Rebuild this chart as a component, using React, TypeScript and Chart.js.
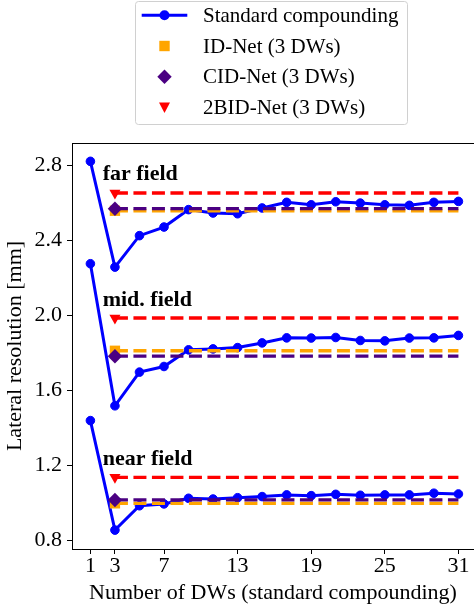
import React, { useEffect, useRef } from 'react';
import { Chart, registerables } from 'chart.js';

Chart.register(...registerables);

// ---------- data ----------
const dwCounts = [1, 3, 5, 7, 9, 11, 13, 15, 17, 19, 21, 23, 25, 27, 29, 31];
const farStandard = [2.823, 2.258, 2.426, 2.472, 2.565, 2.547, 2.543, 2.574, 2.604, 2.591, 2.607, 2.600, 2.591, 2.588, 2.604, 2.609];
const midStandard = [2.276, 1.517, 1.697, 1.727, 1.816, 1.821, 1.828, 1.853, 1.880, 1.879, 1.882, 1.866, 1.864, 1.879, 1.880, 1.893];
const nearStandard = [1.438, 0.853, 0.983, 0.993, 1.023, 1.019, 1.026, 1.032, 1.041, 1.037, 1.044, 1.039, 1.041, 1.041, 1.050, 1.046];
// near, mid, far
const idNet = [0.996, 1.811, 2.559];
const cidNet = [1.014, 1.782, 2.570];
const bidNet = [1.135, 1.986, 2.654];
const netDWs = 3;
const refLineEnd = 31;

const xTicks = [1, 3, 7, 13, 19, 25, 31];
const yTicks = [0.8, 1.2, 1.6, 2.0, 2.4, 2.8];

const fieldLabels = ['near field', 'mid. field', 'far field'];
const fieldLabelX = [2.0, 2.0, 2.0];
const fieldLabelY = [1.2, 2.048, 2.725];

const legendLabels = ['Standard compounding', 'ID-Net (3 DWs)', 'CID-Net (3 DWs)', '2BID-Net (3 DWs)'];

const BLUE = '#0000ff';
const ORANGE = '#ffa500';
const PURPLE = '#4b0082';
const RED = '#ff0000';
const FONT = '"Liberation Serif", "Times New Roman", serif';

const decorPlugin = {
  id: 'decor',
  afterDraw(chart: any) {
    const { ctx, chartArea, scales } = chart;
    const xs = scales.x;
    const ys = scales.y;
    ctx.save();
    // top spine
    ctx.strokeStyle = '#000';
    ctx.lineWidth = 1;
    ctx.beginPath();
    const ty = Math.round(chartArea.top) + 0.5;
    ctx.moveTo(chartArea.left, ty);
    ctx.lineTo(chartArea.right, ty);
    ctx.stroke();

    // field annotations
    ctx.font = `bold 22px ${FONT}`;
    ctx.fillStyle = '#000';
    ctx.textAlign = 'left';
    ctx.textBaseline = 'alphabetic';
    fieldLabels.forEach((t, i) => {
      ctx.fillText(t, xs.getPixelForValue(fieldLabelX[i]), ys.getPixelForValue(fieldLabelY[i]));
    });

    // legend box
    const bx = 135.5, by = 1.5, bw = 272, bh = 123, r = 3;
    ctx.beginPath();
    ctx.moveTo(bx + r, by);
    ctx.lineTo(bx + bw - r, by);
    ctx.quadraticCurveTo(bx + bw, by, bx + bw, by + r);
    ctx.lineTo(bx + bw, by + bh - r);
    ctx.quadraticCurveTo(bx + bw, by + bh, bx + bw - r, by + bh);
    ctx.lineTo(bx + r, by + bh);
    ctx.quadraticCurveTo(bx, by + bh, bx, by + bh - r);
    ctx.lineTo(bx, by + r);
    ctx.quadraticCurveTo(bx, by, bx + r, by);
    ctx.closePath();
    ctx.fillStyle = 'rgba(255,255,255,0.8)';
    ctx.fill();
    ctx.strokeStyle = '#d0d0d0';
    ctx.lineWidth = 1;
    ctx.stroke();

    const mx = 164.5;
    const rowY = (i: number) => 15.3 + i * 30.7;
    // entry 0: line + circle
    ctx.strokeStyle = BLUE;
    ctx.lineWidth = 3;
    ctx.beginPath();
    ctx.moveTo(141.7, rowY(0));
    ctx.lineTo(187.3, rowY(0));
    ctx.stroke();
    ctx.fillStyle = BLUE;
    ctx.beginPath();
    ctx.arc(mx, rowY(0), 5, 0, Math.PI * 2);
    ctx.fill();
    // entry 1: square
    ctx.fillStyle = ORANGE;
    ctx.fillRect(mx - 5.2, rowY(1) - 5.2, 10.4, 10.4);
    // entry 2: diamond
    ctx.fillStyle = PURPLE;
    ctx.beginPath();
    ctx.moveTo(mx, rowY(2) - 7.2);
    ctx.lineTo(mx + 7.2, rowY(2));
    ctx.lineTo(mx, rowY(2) + 7.2);
    ctx.lineTo(mx - 7.2, rowY(2));
    ctx.closePath();
    ctx.fill();
    // entry 3: triangle down
    ctx.fillStyle = RED;
    ctx.beginPath();
    ctx.moveTo(mx - 5.5, rowY(3) - 5);
    ctx.lineTo(mx + 5.5, rowY(3) - 5);
    ctx.lineTo(mx, rowY(3) + 5.5);
    ctx.closePath();
    ctx.fill();

    ctx.font = `21px ${FONT}`;
    ctx.fillStyle = '#000';
    ctx.textAlign = 'left';
    ctx.textBaseline = 'middle';
    legendLabels.forEach((t, i) => ctx.fillText(t, 203, rowY(i) + 1));
    ctx.restore();
  },
};

export default function App() {
  const canvasRef = useRef<HTMLCanvasElement | null>(null);

  useEffect(() => {
    if (!canvasRef.current) return;
    Chart.defaults.font.family = FONT;
    Chart.defaults.color = '#000';

    const standardSets = [nearStandard, midStandard, farStandard].map((vals) => ({
      type: 'line' as const,
      data: dwCounts.map((x, j) => ({ x, y: vals[j] })),
      borderColor: BLUE,
      backgroundColor: BLUE,
      borderWidth: 3,
      pointRadius: 4.3,
      pointBorderWidth: 1,
      pointBackgroundColor: BLUE,
      pointBorderColor: BLUE,
      order: 4,
    }));

    const makeRef = (vals: number[], color: string, style: string, radius: number, rot: number, order: number) =>
      vals.map((v) => ({
        type: 'line' as const,
        data: [
          { x: netDWs, y: v },
          { x: refLineEnd, y: v },
        ],
        borderColor: color,
        backgroundColor: color,
        borderWidth: 3.3,
        borderDash: [13, 5.5],
        pointStyle: style,
        pointRotation: rot,
        pointRadius: [radius, 0],
        pointBorderWidth: 0,
        pointBackgroundColor: color,
        order,
      }));

    const datasets: any[] = [
      ...standardSets,
      ...makeRef(idNet, ORANGE, 'rect', 7.3, 0, 3),
      ...makeRef(cidNet, PURPLE, 'rectRot', 7.2, 0, 2),
      ...makeRef(bidNet, RED, 'triangle', 6.4, 180, 1),
    ];

    const chart = new Chart(canvasRef.current, {
      type: 'line',
      data: { datasets },
      plugins: [decorPlugin],
      options: {
        responsive: false,
        animation: false,
        devicePixelRatio: 1,
        layout: { autoPadding: false, padding: { top: 143, left: 0, right: 0, bottom: 0 } },
        plugins: {
          legend: { display: false },
          tooltip: { enabled: false },
        },
        scales: {
          x: {
            type: 'linear',
            min: -0.5,
            max: 32.27,
            afterBuildTicks: (scale: any) => {
              scale.ticks = xTicks.map((v) => ({ value: v }));
            },
            afterFit: (scale: any) => {
              scale.height = 61;
              scale.paddingLeft = 0;
              scale.paddingRight = 0;
            },
            ticks: {
              autoSkip: false,
              maxRotation: 0,
              padding: 0,
              color: '#000',
              font: { size: 22, lineHeight: 1.1 },
              callback: (v: any) => String(v),
            },
            grid: { display: true, drawOnChartArea: false, drawTicks: true, tickLength: 5, color: '#000', lineWidth: 1 },
            border: { display: true, color: '#000', width: 1 },
            title: {
              display: true,
              text: 'Number of DWs (standard compounding)',
              color: '#000',
              font: { size: 22 },
              padding: { top: 0, bottom: 4 },
            },
          },
          y: {
            type: 'linear',
            min: 0.752,
            max: 2.921,
            afterBuildTicks: (scale: any) => {
              scale.ticks = yTicks.map((v) => ({ value: v }));
            },
            afterFit: (scale: any) => {
              scale.width = 72;
              scale.paddingTop = 0;
              scale.paddingBottom = 0;
            },
            ticks: {
              autoSkip: false,
              padding: 5,
              color: '#000',
              font: { size: 22 },
              callback: (v: any) => Number(v).toFixed(1),
            },
            grid: { display: true, drawOnChartArea: false, drawTicks: true, tickLength: 5, color: '#000', lineWidth: 1 },
            border: { display: true, color: '#000', width: 1 },
            title: {
              display: true,
              text: 'Lateral resolution [mm]',
              color: '#000',
              font: { size: 22 },
              padding: { top: 2.5, bottom: 0 },
            },
          },
        },
      } as any,
    });

    return () => chart.destroy();
  }, []);

  return (
    <div style={{ position: 'absolute', left: 0, top: 0, width: 474, height: 610, overflow: 'hidden', background: '#fff' }}>
      <canvas ref={canvasRef} width={474} height={610} style={{ display: 'block' }} />
    </div>
  );
}
